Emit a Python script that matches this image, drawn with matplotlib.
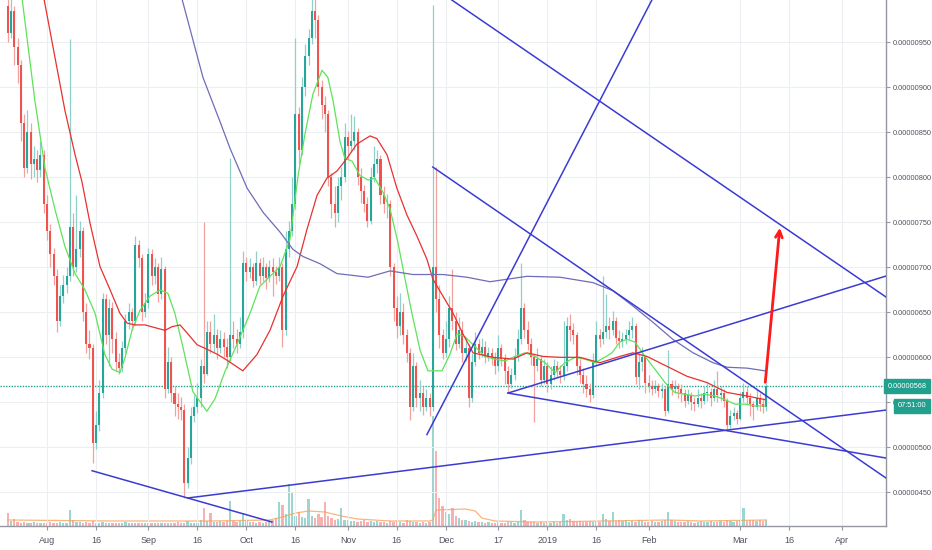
import matplotlib
matplotlib.use("Agg")
import matplotlib.pyplot as plt
import matplotlib.transforms as mtransforms
import numpy as np

# daily candles, day 0 = 2018-08-01, prices in units of 1e-8
first_day = -12
first_open = 990
closes = [960, 985, 945, 925, 860, 810, 850, 815, 820, 808, 825, 770,
          740, 715, 690, 640, 668, 680, 690, 745, 700, 720,
          740, 650, 615, 610, 505, 525, 560, 665, 625, 655,
          620, 595, 588, 610, 640, 650, 640, 725, 710, 650,
          660, 715, 690, 700, 670, 698, 565, 595, 560, 548,
          545, 542, 460, 488, 535, 545, 555, 590, 582, 628,
          615, 625, 610, 620, 612, 600, 625, 620, 615, 628,
          705, 695, 700, 685, 705, 690, 700, 688, 700, 695,
          690, 700, 630, 720, 740, 770, 870, 830, 900, 935,
          955, 985, 975, 900, 880, 870, 800, 770, 760, 790,
          800, 845, 835, 840, 850, 800, 785, 770, 752, 800,
          815, 820, 780, 770, 770, 700, 655, 635, 650, 625,
          605, 545, 590, 555, 560, 545, 555, 545, 700, 665,
          625, 605, 620, 655, 640, 615, 630, 605, 610, 555,
          595, 615, 605, 612, 600, 605, 600, 590, 610, 598,
          585, 570, 580, 600, 620, 655, 630, 615, 600, 590,
          598, 575, 590, 570, 580, 590, 585, 580, 590, 635,
          630, 625, 590, 580, 570, 565, 558, 595, 625, 620,
          628, 635, 630, 640, 622, 618, 620, 625, 630, 635,
          578, 595, 600, 572, 568, 565, 568, 563, 565, 540,
          570, 565, 568, 565, 560, 552, 558, 550, 548, 555,
          552, 560, 562, 555, 565, 558, 560, 552, 525, 535,
          538, 532, 555, 562, 555, 548, 545, 555, 548, 545, 568]
highs = [998, 998, 990, 955, 930, 870, 875, 860, 835, 830, 840, 830,
         780, 748, 722, 698, 680, 692, 700, 954, 760, 780,
         752, 745, 660, 630, 615, 540, 575, 672, 670, 665,
         662, 628, 605, 618, 648, 660, 655, 735, 730, 715,
         672, 722, 720, 710, 705, 712, 702, 612, 600, 568,
         560, 556, 548, 500, 545, 558, 572, 598, 750, 640,
         640, 648, 632, 630, 628, 622, 822, 640, 632, 645,
         718, 712, 710, 705, 718, 710, 712, 705, 708, 710,
         702, 712, 705, 740, 752, 800, 955, 878, 912, 948,
         965, 998, 998, 980, 908, 890, 875, 805, 790, 800,
         812, 860, 852, 870, 868, 855, 810, 792, 778, 812,
         835, 830, 825, 790, 782, 775, 705, 668, 672, 660,
         632, 610, 605, 595, 575, 568, 565, 560, 991, 812,
         680, 632, 640, 668, 698, 650, 645, 640, 622, 615,
         605, 628, 620, 622, 618, 612, 610, 606, 625, 615,
         604, 590, 588, 610, 632, 705, 660, 640, 622, 605,
         610, 602, 598, 595, 590, 598, 596, 592, 640, 645,
         648, 638, 628, 598, 588, 580, 572, 605, 640, 632,
         690, 670, 645, 652, 645, 630, 628, 632, 640, 645,
         638, 605, 612, 602, 580, 575, 575, 572, 572, 568,
         608, 575, 575, 572, 570, 565, 565, 562, 556, 565,
         560, 568, 572, 566, 575, 585, 568, 565, 555, 542,
         545, 542, 562, 572, 568, 560, 552, 565, 560, 555, 572]
lows = [950, 955, 925, 905, 840, 800, 805, 798, 800, 795, 800, 760,
        730, 700, 680, 628, 635, 660, 672, 685, 690, 695,
        712, 640, 605, 598, 483, 498, 518, 555, 615, 590,
        605, 585, 582, 584, 605, 632, 630, 636, 700, 640,
        645, 655, 680, 682, 662, 665, 555, 560, 550, 535,
        532, 530, 444, 455, 482, 528, 538, 545, 572, 580,
        605, 606, 598, 605, 600, 588, 596, 610, 605, 610,
        622, 685, 688, 678, 680, 682, 685, 676, 684, 668,
        682, 685, 612, 625, 712, 735, 765, 815, 825, 890,
        925, 948, 955, 890, 865, 850, 790, 755, 745, 750,
        775, 795, 820, 828, 830, 792, 772, 762, 745, 748,
        795, 805, 770, 760, 755, 690, 640, 622, 625, 615,
        595, 530, 540, 545, 540, 536, 540, 535, 540, 650,
        610, 598, 600, 612, 630, 608, 610, 595, 596, 545,
        550, 590, 598, 600, 594, 596, 592, 582, 585, 590,
        570, 562, 566, 575, 596, 615, 622, 608, 592, 528,
        585, 568, 570, 562, 565, 575, 578, 572, 575, 585,
        618, 615, 580, 572, 560, 556, 550, 555, 590, 612,
        615, 622, 620, 625, 615, 610, 612, 615, 620, 622,
        570, 565, 585, 560, 562, 558, 560, 556, 555, 535,
        538, 558, 560, 555, 550, 545, 548, 542, 540, 545,
        544, 548, 552, 546, 552, 550, 552, 545, 518, 522,
        530, 526, 530, 550, 548, 535, 530, 542, 540, 538, 540]
volumes = [13, 5, 7, 4, 3, 4, 3, 3, 4, 3, 3, 3,
           3, 4, 3, 3, 4, 3, 3, 16, 6, 4,
           4, 3, 4, 3, 5, 3, 3, 4, 3, 3,
           3, 3, 3, 3, 4, 3, 3, 3, 3, 3,
           3, 3, 3, 3, 3, 3, 3, 3, 3, 3,
           4, 3, 3, 5, 3, 3, 3, 6, 18, 5,
           13, 4, 4, 5, 4, 5, 25, 5, 4, 5,
           13, 6, 4, 4, 3, 4, 3, 4, 6, 6,
           8, 24, 21, 12, 42, 33, 10, 14, 9, 8,
           27, 10, 8, 12, 9, 24, 10, 8, 6, 7,
           18, 6, 6, 5, 5, 4, 5, 6, 4, 5,
           4, 5, 4, 4, 3, 5, 4, 5, 4, 3,
           6, 5, 4, 4, 3, 4, 3, 4, 110, 75,
           28, 20, 14, 12, 18, 10, 8, 6, 6, 5,
           4, 5, 4, 4, 3, 4, 3, 3, 4, 3,
           3, 4, 4, 3, 4, 16, 6, 4, 4, 4,
           3, 4, 3, 4, 3, 4, 3, 4, 12, 6,
           7, 5, 4, 5, 4, 4, 5, 4, 5, 4,
           12, 7, 5, 14, 5, 6, 5, 6, 4, 5,
           4, 6, 5, 4, 4, 5, 4, 4, 5, 6,
           14, 6, 5, 4, 4, 4, 5, 4, 3, 4,
           5, 4, 4, 5, 4, 4, 5, 4, 6, 5,
           4, 5, 6, 18, 5, 6, 6, 5, 6, 5, 6]

# moving averages (day, value)
ma_fast_days = [-7.6, -3.7, -0.6, 2.4, 5.5, 8.6, 11.6, 14.7, 17.7, 19.9, 22.3, 23.9, 26, 28.4, 31.5,
                34.6, 37, 39.1, 41.6, 44.6, 48.9, 51.4, 54.4, 59, 62.1, 65.1, 68.2, 71.3, 74.3,
                76.8, 78.9, 81.3, 84.1, 85.9, 87.5, 89.6, 91.1, 93.3, 95.7, 98.2, 100.3, 102.8,
                104.9, 107.3, 109.5, 111.6, 114.1, 116.5, 118.7, 120.8, 123.2, 125.4, 127.8,
                130.9, 133.9, 137, 140.1, 143.1, 146.2, 149.2, 152.3, 155.4, 158.4, 161.5,
                164.5, 167.6, 170.6, 172.8, 175.2, 177.4, 179.8, 182.9, 185.9, 189, 192,
                195.1, 198.2, 201.2, 204.3, 207.3, 210.4, 213.5, 216.5, 219.6]
ma_fast_vals = [998, 885, 810, 765, 723, 693, 675, 649, 603, 587, 583, 600, 630, 652, 668,
                675, 671, 649, 611, 562, 540, 554, 584, 622, 649, 679, 690, 701, 731,
                802, 848, 892, 919, 911, 885, 840, 821, 818, 802, 797, 799, 783,
                765, 728, 687, 649, 608, 585, 585, 585, 603, 626, 623,
                612, 601, 598, 596, 601, 605, 601, 594, 583, 594, 600,
                598, 594, 600, 605, 617, 620, 617, 601, 587, 572, 561,
                559, 557, 559, 557, 553, 548, 548, 546, 546]
ma_mid_days = [-0.9, 2.4, 5.5, 8.6, 10.7, 13.1, 16.2, 19.3, 22.3, 24.5, 26.9, 30, 33, 36.1,
               38.2, 40.7, 43.1, 45.9, 48.9, 52.3, 55.4, 59.9, 64.2, 68.2, 72.2, 76.5, 79.5,
               82.6, 85.6, 88.7, 91.7, 94.8, 98.8, 100.9, 104, 107, 110.1, 113.1, 116.2, 118,
               121.1, 124.2, 127.2, 130.3, 136.4, 142.5, 146.8, 151.7, 156.9, 163, 169.1,
               175.2, 179.2, 183.5, 189.6, 195.7, 201.8, 208, 214.1, 219.6]
ma_mid_vals = [998, 934, 874, 825, 795, 750, 701, 675, 649, 638, 636, 636, 633, 630,
               634, 636, 626, 614, 609, 603, 596, 585, 603, 630, 668, 701, 742,
               780, 799, 807, 821, 837, 846, 843, 825, 788, 758, 735, 709, 687,
               668, 649, 626, 605, 600, 598, 605, 601, 600, 600, 594,
               601, 605, 601, 590, 579, 572, 561, 557, 553]
ma_slow_days = [41.3, 47.7, 52.9, 56, 61.2, 66.1, 71.3, 75.2, 78.3, 83.5, 88.7, 93.6, 98.2,
                104.9, 111.9, 121.1, 128.4, 135.5, 146.8, 156.9, 167, 173.1, 179.2, 185.3,
                191.4, 197.6, 203.7, 208, 214.1, 219.6]
ma_slow_vals = [998, 911, 862, 832, 788, 761, 739, 720, 712, 704, 693, 691, 689,
                696, 692, 692, 689, 684, 690, 689, 683, 674, 657, 639,
                620, 605, 594, 589, 588, 585]
vol_ma_days = [-12, 20, 50, 68, 72, 76, 80, 85, 90, 95, 105, 117, 118, 119, 128, 131, 133, 137,
               150, 170, 190, 200, 220]
vol_ma_vals = [6, 5, 5, 6, 9, 13, 15, 14, 10, 7, 5, 5, 6, 16, 17, 15, 8, 5, 4, 5, 6, 5, 6]

# drawn trend lines: (day0, price0, day1, price1)
trend_lines = [(13.8, 474, 68.8, 417),
               (43.0, 443.7, 256.6, 541.4),
               (116.2, 514.2, 185.0, 997),
               (118.0, 811.4, 256.6, 465.9),
               (123.8, 997, 256.6, 667),
               (141.0, 560.3, 256.6, 690.3),
               (141.0, 560.3, 256.6, 488.1)]
arrow_start = (219.6, 569.2)
arrow_end = (224.2, 747)
last_price = 568

tick_days = [0, 15, 31, 46, 61, 76, 92, 107, 122, 138, 153, 168, 184, 212, 227, 243]
tick_labels = ["Aug", "16", "Sep", "16", "Oct", "16", "Nov", "16", "Dec", "17",
               "2019", "16", "Feb", "Mar", "16", "Apr"]
price_ticks = [450, 500, 550, 600, 650, 700, 750, 800, 850, 900, 950]

GREEN = "#26a69a"
RED = "#ef5350"
TEAL = "#21a08d"
plt.rcParams["font.family"] = ["Liberation Sans", "DejaVu Sans"]

days = np.arange(first_day, first_day + len(closes))
c = np.array(closes, float)
o = np.concatenate([[first_open], c[:-1]])
h = np.maximum(np.array(highs, float), np.maximum(o, c))
l = np.minimum(np.array(lows, float), np.minimum(o, c))
up = c >= o

W, H = 932, 550
fig = plt.figure(figsize=(W / 100, H / 100), dpi=100)
rect = [0, 24 / H, 886 / W, 526 / H]
xlim = (-14.37, 256.6)

axv = fig.add_axes(rect)
axv.set_xlim(*xlim)
axv.set_ylim(0, 526)
axv.axis("off")
axv.bar(days, volumes, width=0.7, color=np.where(up, GREEN, RED), alpha=0.45, linewidth=0)
axv.plot(vol_ma_days, vol_ma_vals, color="#f7a35c", lw=0.9, alpha=0.8)

ax = fig.add_axes(rect)
ax.patch.set_visible(False)
ax.set_xlim(*xlim)
ax.set_ylim(412.6, 997)
ax.set_axisbelow(True)
ax.grid(True, color="#eceef2", lw=0.8)

ax.vlines(days, l, h, colors=np.where(up, "#8fd0c8", "#f3a19e"), lw=0.9, zorder=2)
ax.bar(days, np.maximum(np.abs(c - o), 0.8), bottom=np.minimum(o, c), width=0.62,
       color=np.where(up, GREEN, RED), linewidth=0, zorder=3)

ax.plot(ma_fast_days, ma_fast_vals, color="#5ee35a", lw=0.9, zorder=4)
ax.plot(ma_mid_days, ma_mid_vals, color="#e8312f", lw=0.9, zorder=4)
ax.plot(ma_slow_days, ma_slow_vals, color="#6f6cb8", lw=0.9, zorder=4)

for x0, y0, x1, y1 in trend_lines:
    ax.plot([x0, x1], [y0, y1], color="#3b3bd4", lw=1.1, zorder=5)
ax.annotate("", xy=arrow_end, xytext=arrow_start,
            arrowprops=dict(arrowstyle="->", color="#ff1a1a", lw=2, mutation_scale=12),
            zorder=6)

ax.axhline(last_price, color=TEAL, lw=1, ls=(0, (1, 1)), zorder=1)

ax.set_xticks(tick_days)
ax.set_xticklabels(tick_labels)
ax.set_yticks(price_ticks)
ax.set_yticklabels(["0.%08d" % p for p in price_ticks])
ax.yaxis.tick_right()
ax.tick_params(axis="x", length=3, color="#9598a1", labelsize=6.5, labelcolor="#50535e", pad=4)
ax.tick_params(axis="y", length=3, color="#9598a1", labelsize=5.3, labelcolor="#50535e", pad=2)
for s in ["top", "left"]:
    ax.spines[s].set_visible(False)
for s in ["right", "bottom"]:
    ax.spines[s].set_color("#9598a1")
    ax.spines[s].set_linewidth(1)

tr = mtransforms.blended_transform_factory(ax.transAxes, ax.transData)
ax.text(1.002, last_price, "0.%08d" % last_price, transform=tr, ha="left", va="center",
        fontsize=5.3, color="white", zorder=10, clip_on=False,
        bbox=dict(boxstyle="square,pad=0.45", fc=TEAL, ec=TEAL))
ax.text(1.013, 546, "07:51:00", transform=tr, ha="left", va="center",
        fontsize=5.3, color="white", zorder=10, clip_on=False,
        bbox=dict(boxstyle="square,pad=0.5", fc=TEAL, ec=TEAL))

fig.savefig("out.png", dpi=100, facecolor="white")
